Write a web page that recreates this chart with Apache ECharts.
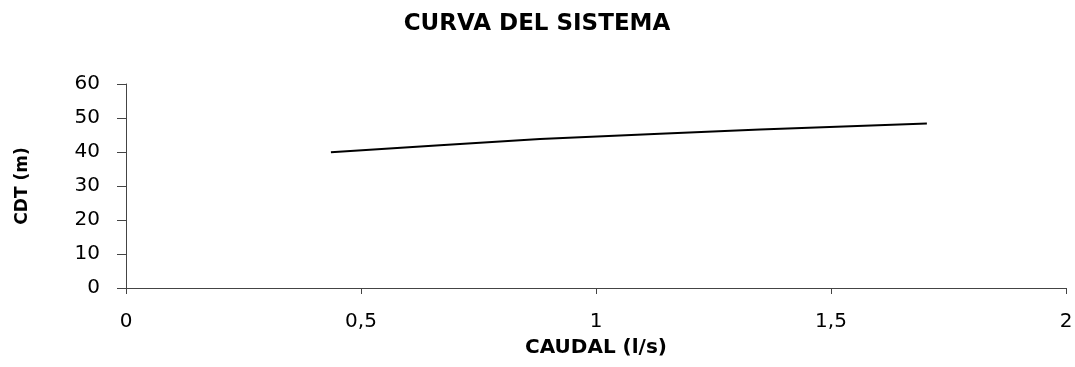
<!DOCTYPE html>
<html>
<head>
<meta charset="utf-8">
<script src="https://cdn.jsdelivr.net/npm/echarts@6/dist/echarts.min.js"></script>
<style>
  html, body { margin: 0; padding: 0; background: #fff; }
  #chart { width: 1075px; height: 367px; }
</style>
</head>
<body>
<div id="chart"></div>
<script>
// caudal (l/s) y CDT (m)
var caudal = [0.436, 0.668, 0.881, 1.136, 1.349, 1.704];
var cdt = [39.9, 42.0, 43.8, 45.4, 46.6, 48.4];

var puntos = [];
for (var i = 0; i < caudal.length; i++) {
	puntos.push([caudal[i], cdt[i]]);
}

var chart = echarts.init(document.getElementById('chart'));
var font = 'DejaVu Sans, sans-serif';
chart.setOption({
	animation: false,
	title: {
		text: 'CURVA DEL SISTEMA',
		left: 532, top: 8, textAlign: 'center',
		textStyle: {fontFamily: font, fontSize: 23, fontWeight: 'bold', color: '#000'}
	},
	grid: {left: 126, right: 9, top: 84, bottom: 79, outerBoundsMode: 'none', containLabel: false},
	xAxis: {
		type: 'value', min: 0, max: 2, interval: 0.5,
		name: 'CAUDAL (l/s)', nameLocation: 'middle', nameGap: 50,
		nameTextStyle: {fontFamily: font, fontSize: 20, fontWeight: 'bold', color: '#000'},
		axisLine: {lineStyle: {color: '#444'}},
		axisTick: {show: true, length: 6, lineStyle: {color: '#444'}},
		splitLine: {show: false},
		axisLabel: {
			fontFamily: font, fontSize: 20, color: '#000', margin: 24,
			formatter: function (v) { return String(v).replace('.', ','); }
		}
	},
	yAxis: {
		type: 'value', min: 0, max: 60, interval: 10,
		name: 'CDT (m)', nameLocation: 'middle', nameGap: 95,
		nameTextStyle: {fontFamily: font, fontSize: 17, fontWeight: 'bold', color: '#000'},
		axisLine: {show: true, lineStyle: {color: '#444'}},
		axisTick: {show: true, length: 9, lineStyle: {color: '#444'}},
		splitLine: {show: false},
		axisLabel: {fontFamily: font, fontSize: 20, color: '#000', margin: 26}
	},
	series: [{
		type: 'line',
		data: puntos,
		smooth: false,
		showSymbol: false,
		lineStyle: {color: '#000', width: 2}
	}]
});
</script>
</body>
</html>
